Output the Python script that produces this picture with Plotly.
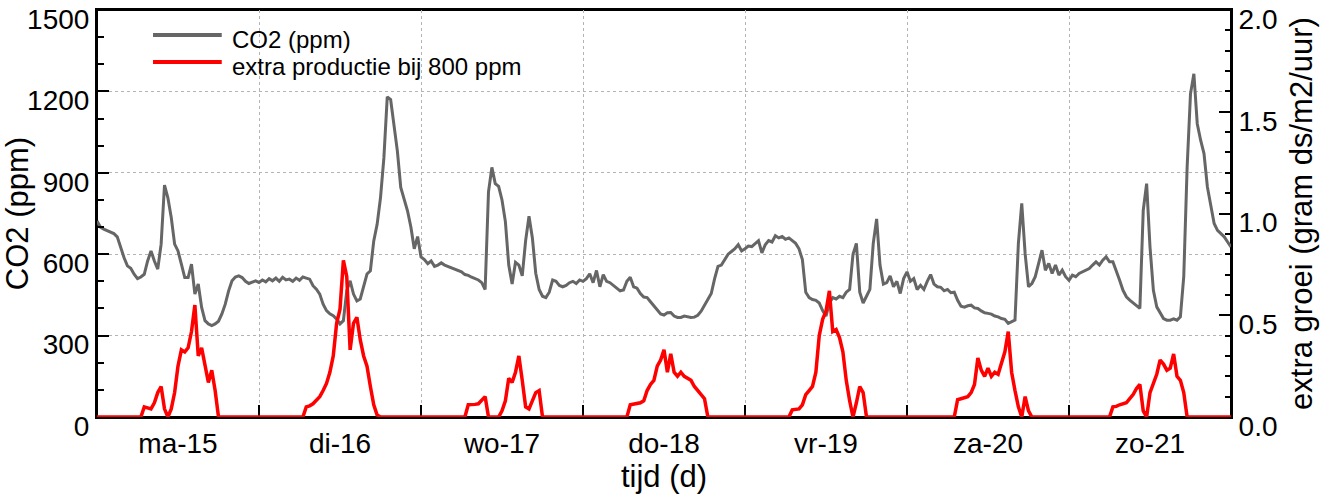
import plotly.graph_objects as go

# ---------------- data: half-hourly samples over one week (h = 0 ... 168) ----------------
co2_ppm = [
    722, 700, 692, 686, 683, 676, 664, 624, 588, 557,        # h0-4.5
    548, 526, 510, 516, 526, 575, 612, 575, 545, 637,        # h5-9.5
    855, 808, 735, 637, 612, 563, 514, 514, 563, 453,        # h10-14.5
    490, 404, 355, 343, 337, 343, 353, 380, 416, 465,        # h15-19.5
    502, 516, 520, 514, 500, 492, 496, 502, 496, 505,        # h20-24.5
    498, 510, 502, 512, 500, 515, 505, 508, 500, 512,        # h25-29.5
    504, 516, 512, 508, 484, 471, 453, 416, 392, 380,        # h30-34.5
    373, 361, 343, 355, 465, 502, 453, 428, 435, 478,        # h35-39.5
    527, 539, 649, 710, 808, 955, 1180, 1170, 1080, 980,     # h40-44.5
    846, 800, 760, 700, 620, 665, 590, 580, 565, 575,        # h45-49.5
    555, 560, 568, 560, 555, 550, 545, 538, 535, 525,        # h50-54.5
    522, 515, 510, 505, 495, 470, 830, 920, 860, 850,        # h55-59.5
    800, 720, 560, 490, 570, 560, 520, 650, 740, 660,        # h60-64.5
    530, 470, 445, 440, 460, 505, 500, 485, 480, 485,        # h65-69.5
    495, 500, 492, 505, 500, 510, 528, 495, 540, 480,        # h70-74.5
    525, 500, 495, 485, 472, 465, 468, 500, 515, 480,        # h75-79.5
    475, 455, 442, 440, 425, 410, 392, 380, 376, 384,        # h80-84.5
    385, 372, 367, 367, 372, 370, 367, 368, 375, 390,        # h85-89.5
    410, 430, 455, 510, 555, 560, 580, 600, 610, 620,        # h90-94.5
    635, 612, 620, 630, 628, 640, 650, 605, 635, 650,        # h95-99.5
    645, 668, 660, 665, 655, 660, 650, 640, 620, 580,        # h100-104.5
    460, 440, 433, 430, 420, 392, 372, 420, 440, 435,        # h105-109.5
    445, 440, 460, 470, 600, 640, 460, 420, 445, 470,        # h110-114.5
    640, 730, 560, 490, 495, 520, 480, 500, 455, 510,        # h115-119.5
    535, 500, 510, 470, 485, 470, 500, 525, 490, 480,        # h120-124.5
    478, 465, 470, 458, 460, 430, 408, 405, 410, 412,        # h125-129.5
    402, 400, 391, 384, 382, 379, 372, 369, 363, 360,        # h130-134.5
    345, 351, 357, 640, 787, 602, 480, 492, 517, 566,        # h135-139.5
    615, 541, 566, 529, 560, 523, 541, 517, 504, 523,        # h140-144.5
    517, 529, 535, 541, 547, 560, 572, 560, 578, 590,        # h145-149.5
    572, 572, 541, 504, 467, 443, 431, 421, 412, 400,        # h150-154.5
    762, 860, 627, 467, 406, 382, 363, 357, 357, 362,        # h155-159.5
    357, 369, 517, 921, 1191, 1265, 1081, 1020, 971, 848,    # h160-164.5
    774, 713, 688, 676, 664, 645, 627,                       # h165-168
]

extra_groei = [
    0, 0, 0, 0, 0, 0, 0, 0, 0, 0,                                  # h0-4.5
    0, 0, 0, 0, 0.05, 0.045, 0.04, 0.07, 0.12, 0.15,               # h5-9.5
    0.04, 0.0, 0.04, 0.12, 0.25, 0.33, 0.32, 0.34, 0.42, 0.55,     # h10-14.5
    0.30, 0.34, 0.25, 0.17, 0.23, 0.13, 0, 0, 0, 0,                # h15-19.5
    0, 0, 0, 0, 0, 0, 0, 0, 0, 0,                                  # h20-24.5
    0, 0, 0, 0, 0, 0, 0, 0, 0, 0,                                  # h25-29.5
    0, 0, 0.05, 0.055, 0.065, 0.08, 0.10, 0.13, 0.165, 0.22,       # h30-34.5
    0.30, 0.46, 0.53, 0.77, 0.69, 0.33, 0.46, 0.49, 0.38, 0.30,    # h35-39.5
    0.25, 0.15, 0.06, 0.01, 0, 0, 0, 0, 0, 0,                      # h40-44.5
    0, 0, 0, 0, 0, 0, 0, 0, 0, 0,                                  # h45-49.5
    0, 0, 0, 0, 0, 0, 0, 0, 0, 0,                                  # h50-54.5
    0.06, 0.06, 0.062, 0.065, 0.08, 0.10, 0, 0, 0, 0,              # h55-59.5
    0.03, 0.08, 0.19, 0.17, 0.22, 0.30, 0.18, 0.05, 0.04, 0.08,    # h60-64.5
    0.12, 0.13, 0, 0, 0, 0, 0, 0, 0, 0,                            # h65-69.5
    0, 0, 0, 0, 0, 0, 0, 0, 0, 0,                                  # h70-74.5
    0, 0, 0, 0, 0, 0, 0, 0, 0.06, 0.062,                           # h75-79.5
    0.065, 0.07, 0.08, 0.13, 0.16, 0.18, 0.25, 0.28, 0.33, 0.22,   # h80-84.5
    0.31, 0.22, 0.20, 0.22, 0.20, 0.19, 0.18, 0.15, 0.13, 0.11,    # h85-89.5
    0.09, 0, 0, 0, 0, 0, 0, 0, 0, 0,                               # h90-94.5
    0, 0, 0, 0, 0, 0, 0, 0, 0, 0,                                  # h95-99.5
    0, 0, 0, 0, 0, 0, 0.035, 0.038, 0.04, 0.06,                    # h100-104.5
    0.11, 0.13, 0.15, 0.22, 0.40, 0.48, 0.52, 0.62, 0.42, 0.43,    # h105-109.5
    0.39, 0.32, 0.18, 0.08, 0, 0.07, 0.15, 0.12, 0, 0,             # h110-114.5
    0, 0, 0, 0, 0, 0, 0, 0, 0, 0,                                  # h115-119.5
    0, 0, 0, 0, 0, 0, 0, 0, 0, 0,                                  # h120-124.5
    0, 0, 0, 0, 0, 0.085, 0.09, 0.095, 0.10, 0.12,                 # h125-129.5
    0.16, 0.29, 0.23, 0.20, 0.24, 0.20, 0.22, 0.21, 0.27, 0.32,    # h130-134.5
    0.42, 0.22, 0.13, 0.05, 0, 0.10, 0.03, 0, 0, 0,                # h135-139.5
    0, 0, 0, 0, 0, 0, 0, 0, 0, 0,                                  # h140-144.5
    0, 0, 0, 0, 0, 0, 0, 0, 0, 0,                                  # h145-149.5
    0, 0.05, 0.052, 0.06, 0.065, 0.07, 0.09, 0.11, 0.14, 0.16,     # h150-154.5
    0.03, 0, 0.12, 0.17, 0.21, 0.28, 0.26, 0.23, 0.24, 0.31,       # h155-159.5
    0.20, 0.18, 0.12, 0, 0, 0, 0, 0, 0, 0,                         # h160-164.5
    0, 0, 0, 0, 0, 0, 0,                                           # h165-168
]

day_labels = ["ma-15", "di-16", "wo-17", "do-18", "vr-19", "za-20", "zo-21"]
series_names = ["CO2 (ppm)", "extra productie bij 800 ppm"]
co2_ticks = [0, 300, 600, 900, 1200, 1500]
groei_ticks = [0.0, 0.5, 1.0, 1.5, 2.0]
sample_step_h = 0.5

assert len(co2_ppm) == len(extra_groei)
days = [i * sample_step_h / 24 for i in range(len(co2_ppm))]
n_days = len(day_labels)

FONT = "Liberation Sans, Arial, sans-serif"
GRAY = "#666666"
RED = "#ff0000"
GRID = "#b4b4b4"

fig = go.Figure()
fig.add_trace(go.Scatter(x=days, y=co2_ppm, mode="lines", name=series_names[0],
                         line=dict(color=GRAY, width=3), yaxis="y", showlegend=False))
fig.add_trace(go.Scatter(x=days, y=extra_groei, mode="lines", name=series_names[1],
                         line=dict(color=RED, width=3.5), yaxis="y2", showlegend=False))

# plot frame (below traces so the red zero-line shows on the bottom edge)
fig.add_shape(type="rect", xref="paper", yref="paper", x0=0, x1=1, y0=0, y1=1,
              line=dict(color="black", width=2), layer="below")

# custom legend (line samples + real text)
legend_rows = [(series_names[0], GRAY, 0.9386), (series_names[1], RED, 0.8722)]
for name, color, yy in legend_rows:
    fig.add_shape(type="line", xref="paper", yref="paper", x0=0.0494, x1=0.110,
                  y0=yy, y1=yy, line=dict(color=color, width=4))
    fig.add_annotation(xref="paper", yref="paper", x=0.117, y=yy - 0.012, text=name,
                       showarrow=False, xanchor="left", yanchor="middle",
                       font=dict(size=24, color="black", family=FONT))

fig.update_layout(
    width=1327, height=498,
    margin=dict(l=97, r=96, t=10, b=81, autoexpand=False),
    paper_bgcolor="white", plot_bgcolor="white",
    font=dict(family=FONT, color="black"),
    showlegend=False,
    xaxis=dict(
        range=[0, n_days], automargin=False, layer="below traces",
        tickmode="array",
        tickvals=[i + 0.5 for i in range(n_days)],
        ticktext=day_labels,
        ticks="", showgrid=False, zeroline=False,
        showline=True, linecolor="black", linewidth=2, mirror=True,
        tickfont=dict(size=28),
        title=dict(text="tijd (d)", font=dict(size=31), standoff=5),
        minor=dict(tickmode="array", tickvals=list(range(1, n_days)),
                   ticks="inside", ticklen=12, tickwidth=2, tickcolor="black",
                   showgrid=True, gridcolor=GRID, griddash="dot", gridwidth=1),
    ),
    yaxis=dict(
        range=[0, 1500], automargin=False,
        tickmode="array", tickvals=co2_ticks,
        ticks="inside", ticklen=12, tickwidth=2, tickcolor="black",
        showgrid=True, gridcolor=GRID, griddash="dot", gridwidth=1,
        zeroline=False,
        showline=True, linecolor="black", linewidth=2,
        tickfont=dict(size=28),
        ticklabeloverflow="allow", ticklabelshift=9,
        title=dict(text="CO2 (ppm)", font=dict(size=31), standoff=0),
        minor=dict(dtick=100, tick0=0, ticks="inside", ticklen=7, tickwidth=2,
                   tickcolor="black", showgrid=False),
    ),
    yaxis2=dict(
        range=[0, 2.0], overlaying="y", side="right", automargin=False,
        tickmode="array", tickvals=groei_ticks, tickformat=".1f",
        ticks="inside", ticklen=12, tickwidth=2, tickcolor="black",
        showgrid=False, zeroline=False,
        showline=True, linecolor="black", linewidth=2,
        tickfont=dict(size=28),
        ticklabeloverflow="allow", ticklabelshift=9,
        title=dict(text="extra groei (gram ds/m2/uur)", font=dict(size=31), standoff=14),
        minor=dict(dtick=0.1, tick0=0, ticks="inside", ticklen=6, tickwidth=2,
                   tickcolor="black", showgrid=False),
    ),
)

fig.write_html("out.html")
